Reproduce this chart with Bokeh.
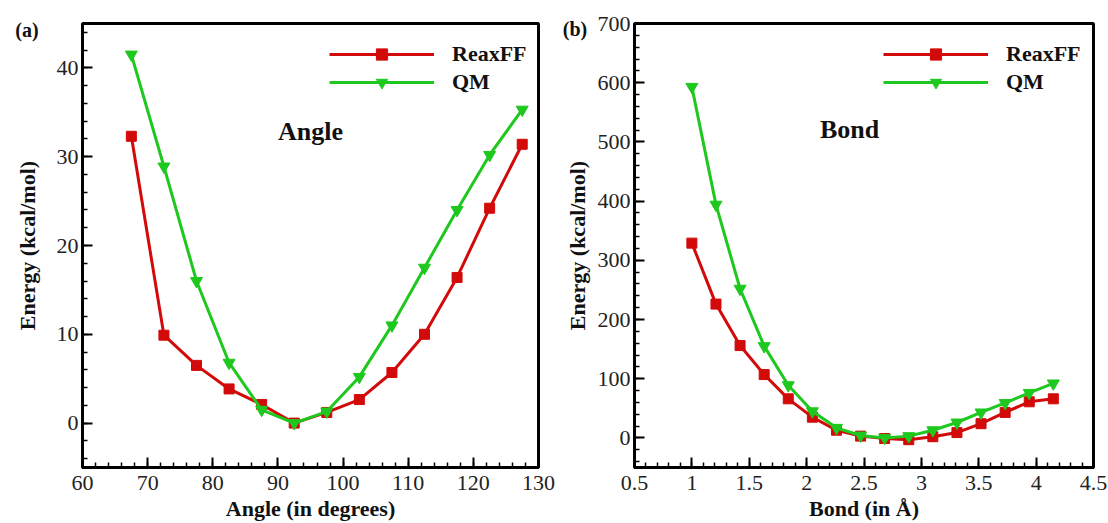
from bokeh.plotting import figure
from bokeh.layouts import row
from bokeh.models import (Range1d, SingleIntervalTicker, Legend, LegendItem, Label)
from bokeh.embed import file_html
from bokeh.resources import INLINE

# ---- data: panel (a) Angle ----
angle_deg = [67.5, 72.5, 77.5, 82.5, 87.5, 92.5, 97.5, 102.5, 107.5, 112.5, 117.5, 122.5, 127.5]
angle_reaxff = [32.3, 9.9, 6.5, 3.85, 2.1, 0.0, 1.2, 2.65, 5.7, 10.0, 16.4, 24.2, 31.4]
angle_qm = [41.5, 28.9, 16.0, 6.8, 1.5, 0.0, 1.3, 5.2, 11.0, 17.5, 24.0, 30.2, 35.3]

# ---- data: panel (b) Bond ----
bond_len = [1.0, 1.21, 1.42, 1.63, 1.84, 2.05, 2.26, 2.47, 2.68, 2.89, 3.1, 3.31, 3.52, 3.73, 3.94, 4.15]
bond_reaxff = [329, 226, 156, 107, 66, 35, 13, 3, -1, -3, 2, 9, 24, 43, 61, 66]
bond_qm = [593, 394, 252, 155, 89, 45, 17, 4, 0, 3, 13, 26, 43, 59, 76, 92]

series_names = ["ReaxFF", "QM"]
RED = "#d20a0a"
GREEN = "#1ec81e"
SERIF = "Liberation Serif"
H = 523


def make_panel(width, bl, br, xr, yr, xint, yint, xlabel, ylabel, ylab_standoff):
    p = figure(width=width, height=H, output_backend="svg", toolbar_location=None,
               x_range=Range1d(*xr), y_range=Range1d(*yr),
               min_border_left=bl, min_border_right=br, min_border_top=23, min_border_bottom=56)
    p.xgrid.visible = False
    p.ygrid.visible = False
    p.outline_line_color = "black"
    p.outline_line_width = 3
    p.background_fill_color = "white"
    p.border_fill_color = "white"
    p.xaxis.ticker = SingleIntervalTicker(interval=xint, num_minor_ticks=5)
    p.yaxis.ticker = SingleIntervalTicker(interval=yint, num_minor_ticks=5)
    for ax in (p.xaxis[0], p.yaxis[0]):
        ax.axis_line_width = 3
        ax.axis_line_color = "black"
        ax.major_tick_in = 10
        ax.major_tick_out = 0
        ax.minor_tick_in = 5
        ax.minor_tick_out = 0
        ax.major_tick_line_width = 2
        ax.minor_tick_line_width = 1.5
        ax.major_label_text_font = SERIF
        ax.major_label_text_font_size = "22px"
        ax.major_label_text_color = "#222222"
        ax.major_label_standoff = 4
        ax.axis_label_text_font = SERIF
        ax.axis_label_text_font_size = "22px"
        ax.axis_label_text_font_style = "bold"
        ax.axis_label_text_color = "#111111"
    p.xaxis.axis_label = xlabel
    p.yaxis.axis_label = ylabel
    p.xaxis.major_label_standoff = 8
    p.xaxis.axis_label_standoff = 3
    p.yaxis.axis_label_standoff = ylab_standoff
    return p


def add_series(p, x, y_r, y_q, lx, ly):
    l1 = p.line(x, y_r, line_color=RED, line_width=3)
    s1 = p.scatter(x, y_r, marker="square", size=10, fill_color=RED, line_color=RED)
    l2 = p.line(x, y_q, line_color=GREEN, line_width=3)
    s2 = p.scatter(x, y_q, marker="inverted_triangle", size=12, fill_color=GREEN, line_color=GREEN)
    leg = Legend(items=[LegendItem(label=series_names[0], renderers=[l1, s1]),
                        LegendItem(label=series_names[1], renderers=[l2, s2])],
                 location=(lx, ly), orientation="vertical",
                 border_line_alpha=0, background_fill_alpha=0,
                 padding=0, margin=0, spacing=0,
                 label_height=28, glyph_height=28, glyph_width=105, label_standoff=18,
                 label_text_font=SERIF, label_text_font_size="22px",
                 label_text_font_style="bold", label_text_color="#111111")
    p.add_layout(leg, "center")


def panel_tag(p, text, sx, sy):
    # placed in the panel above the frame:
    # sx from the frame's left edge, sy upward from the frame's top edge
    p.add_layout(Label(x=sx, y=sy, x_units="screen", y_units="screen", text=text,
                       text_align="center", text_baseline="middle",
                       text_font=SERIF, text_font_size="20px", text_font_style="bold",
                       text_color="#111111"), "above")


# Panel (a)
pa = make_panel(556, 82, 18, (60, 130), (-5, 45), 10, 10,
                "Angle (in degrees)", "Energy (kcal/mol)", 14)
add_series(pa, angle_deg, angle_reaxff, angle_qm, 247, 371)
pa.add_layout(Label(x=95.0, y=32.8, text="Angle", text_align="center", text_baseline="middle",
                    text_font=SERIF, text_font_size="26px", text_font_style="bold",
                    text_color="#111111"))
panel_tag(pa, "(a)", -55.5, -6)

# Panel (b)
pb = make_panel(552, 78, 15, (0.5, 4.5), (-50, 700), 0.5, 100,
                "Bond (in Å)", "Energy (kcal/mol)", 5)
add_series(pb, bond_len, bond_reaxff, bond_qm, 249, 371)
pb.add_layout(Label(x=2.374, y=521, text="Bond", text_align="center", text_baseline="middle",
                    text_font=SERIF, text_font_size="26px", text_font_style="bold",
                    text_color="#111111"))
panel_tag(pb, "(b)", -59.5, -5)

layout = row(pa, pb, spacing=0)
open("out.html", "w").write(file_html(layout, INLINE))
